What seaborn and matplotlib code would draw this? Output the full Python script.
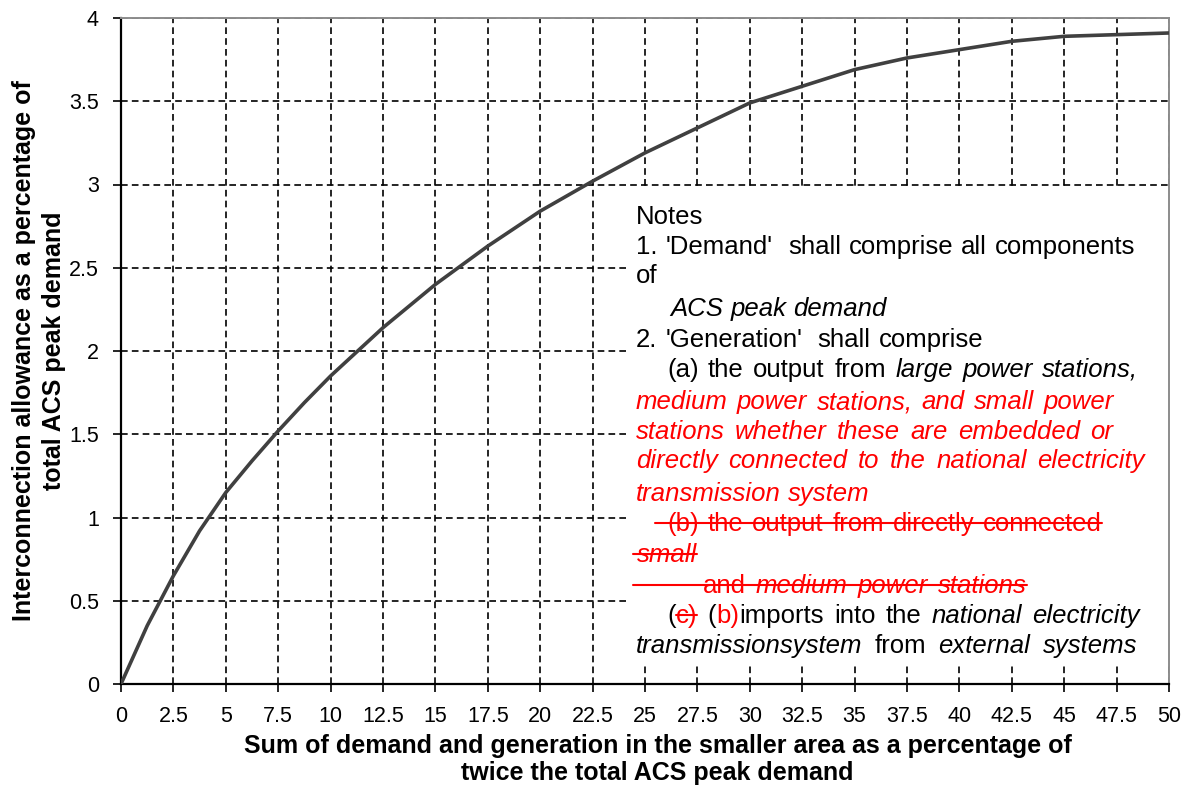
import pandas as pd
import matplotlib.pyplot as plt
import seaborn as sns
from matplotlib.patches import Rectangle
from matplotlib.lines import Line2D

# Curve values
sum_pct = [0, 1.25, 2.5, 3.75, 5, 6.25, 7.5, 8.75, 10, 12.5, 15, 17.5, 20, 22.5, 25,
           27.5, 30, 32.5, 35, 37.5, 40, 42.5, 45, 47.5, 50]
allowance_pct = [0, 0.35, 0.65, 0.92, 1.15, 1.34, 1.52, 1.69, 1.85, 2.14, 2.40, 2.63,
                 2.84, 3.02, 3.19, 3.34, 3.49, 3.59, 3.69, 3.76, 3.81, 3.86, 3.89,
                 3.90, 3.91]

x_ticks = [i * 2.5 for i in range(21)]
y_ticks = [0, 0.5, 1, 1.5, 2, 2.5, 3, 3.5, 4]

x_label = ("Sum of demand and generation in the smaller area as a percentage of\n"
           "twice the total ACS peak demand")
y_label = "Interconnection allowance as a percentage of\ntotal ACS peak demand"

RED = "#ff0000"
BLK = "black"
# Notes: (runs, x start px, baseline px, right edge px or None, strike start px or None)
# run = (text, italic, colour, struck)
notes = [
    ([("Notes", False, BLK, False)], 636, 224, None, None),
    ([("1. 'Demand'  shall comprise all components", False, BLK, False)], 636, 254, 1135, None),
    ([("of", False, BLK, False)], 636, 283, None, None),
    ([("ACS peak demand", True, BLK, False)], 670, 316, 887, None),
    ([("2. 'Generation'  shall comprise", False, BLK, False)], 636, 347, 983, None),
    ([("(a) the output from ", False, BLK, False),
      ("large power stations,", True, BLK, False)], 667, 377, 1138, None),
    ([("medium power stations, and small power", True, RED, False)], 636, 409, 1114, None),
    ([("stations whether these are embedded or", True, RED, False)], 636, 439, 1113, None),
    ([("directly connected to the national electricity", True, RED, False)], 636, 468, 1145, None),
    ([("transmission system", True, RED, False)], 636, 501, 870, None),
    ([("(b) the output from directly connected", False, RED, True)], 667, 531, 1102, 655),
    ([("small", True, RED, True)], 637, 562, None, 633),
    ([("and ", False, RED, True),
      ("medium power stations", True, RED, True)], 703, 593, 1027, 633),
    ([("(", False, BLK, False), ("c)", False, RED, True),
      (" (", False, BLK, False), ("b)", False, RED, False),
      ("imports into the ", False, BLK, False),
      ("national electricity", True, BLK, False)], 667, 623, 1140, None),
    ([("transmissionsystem", True, BLK, False),
      (" from ", False, BLK, False),
      ("external systems", True, BLK, False)], 636, 653, 1137, None),
]
NOTE_SIZE = 18.5

sns.set_theme(style="ticks")
plt.rcParams['font.family'] = ['Liberation Sans', 'DejaVu Sans']

W, H = 1196, 787
fig = plt.figure(figsize=(W / 100, H / 100), dpi=100)
ax = fig.add_axes([121 / W, 1 - 684 / H, 1048 / W, 666 / H])

df = pd.DataFrame({"x": sum_pct, "y": allowance_pct})
sns.lineplot(data=df, x="x", y="y", ax=ax, color="#404040", linewidth=2.6, zorder=3)

ax.set_xlim(0, 50)
ax.set_ylim(0, 4)
ax.set_xticks(x_ticks)
ax.set_xticklabels([f"{v:g}" for v in x_ticks])
ax.set_yticks(y_ticks)
ax.set_yticklabels([f"{v:g}" for v in y_ticks])
ax.set_axisbelow(True)
ax.grid(True, color="black", linestyle=(0, (4, 2.5)), linewidth=1.2)
ax.tick_params(direction="out", length=6, width=1.2, colors="black",
               labelsize=15.5, pad=10)

for side in ["left", "bottom"]:
    ax.spines[side].set_color("black")
    ax.spines[side].set_linewidth(1.6)
for side in ["top", "right"]:
    ax.spines[side].set_visible(True)
    ax.spines[side].set_color("#8c8c8c")
    ax.spines[side].set_linewidth(1.4)

ax.set_xlabel(x_label, fontsize=18, fontweight="bold", linespacing=1.15, color="black")
ax.set_ylabel(y_label, fontsize=18, fontweight="bold", linespacing=1.3, color="black")
ax.xaxis.set_label_coords(0.512, -0.075)
ax.yaxis.set_label_coords(-0.0525, 0.5)

# white panel that hides the grid behind the notes
ax.add_patch(Rectangle((24.14, 0.126), 50 - 24.14, 2.98 - 0.126,
                       facecolor="white", edgecolor="none", zorder=1))

renderer = fig.canvas.get_renderer()
_cache = {}


def width(s, italic):
    key = (s, italic)
    if key not in _cache:
        t = fig.text(0, 0, s, fontsize=NOTE_SIZE, style="italic" if italic else "normal")
        _cache[key] = t.get_window_extent(renderer).width
        t.remove()
    return _cache[key]


def space_w(italic):
    return width("x x", italic) - width("xx", italic)


for runs, x0, base, right, strike_from in notes:
    # split every run into words and single spaces
    pieces = []
    for txt, italic, color, struck in runs:
        word = ""
        for ch in txt:
            if ch == " ":
                if word:
                    pieces.append((word, italic, color, struck))
                    word = ""
                pieces.append((" ", italic, color, struck))
            else:
                word += ch
        if word:
            pieces.append((word, italic, color, struck))
    natural = sum(space_w(p[1]) if p[0] == " " else width(p[0], p[1]) for p in pieces)
    n_sp = sum(1 for p in pieces if p[0] == " ")
    extra = (right - x0 - natural) / n_sp if (right and n_sp) else 0

    x = x0
    spans = []
    for txt, italic, color, struck in pieces:
        if txt == " ":
            x += space_w(italic) + extra
            continue
        w = width(txt, italic)
        fig.text(x / W, 1 - base / H, txt, fontsize=NOTE_SIZE, color=color,
                 style="italic" if italic else "normal", va="baseline", ha="left")
        if struck:
            spans.append((x, x + w))
        x += w
    if spans:
        y = 1 - (base - 8) / H
        if strike_from is not None:
            segs = [(strike_from, spans[-1][1])]
        else:
            segs = spans
        for x1, x2 in segs:
            fig.add_artist(Line2D([x1 / W, x2 / W], [y, y], transform=fig.transFigure,
                                  color=RED, lw=1.5))

fig.savefig("out.png", dpi=100)
